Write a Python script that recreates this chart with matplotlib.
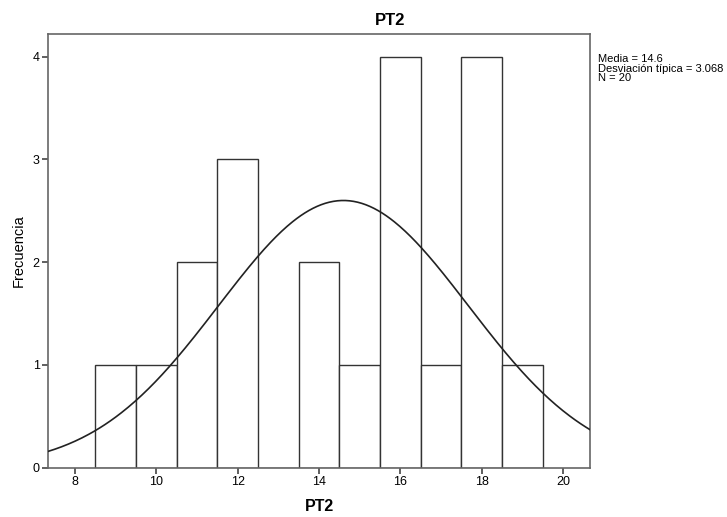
import numpy as np
import matplotlib
matplotlib.use("Agg")
import matplotlib.pyplot as plt

plt.rcParams['font.family'] = ['Liberation Sans', 'DejaVu Sans']

bin_centers = [9, 10, 11, 12, 13, 14, 15, 16, 17, 18, 19]
counts = [1, 1, 2, 3, 0, 2, 1, 4, 1, 4, 1]
mean = 14.6
sd = 3.068
n = 20
bin_width = 1.0

fig = plt.figure(figsize=(7.27, 5.17), dpi=100)
ax = fig.add_axes([0.066, 0.0954, 0.7456, 0.8386])

ax.bar(bin_centers, counts, width=bin_width, facecolor='white', edgecolor='#333333', linewidth=1.0, zorder=2)

xs = np.linspace(7.34, 20.66, 400)
ys = n * bin_width / (sd * np.sqrt(2 * np.pi)) * np.exp(-0.5 * ((xs - mean) / sd) ** 2)
ax.plot(xs, ys, color='#222222', linewidth=1.2, zorder=3)

ax.set_xlim(7.34, 20.66)
ax.set_ylim(0, 4.22)
ax.set_xticks([8, 10, 12, 14, 16, 18, 20])
ax.set_yticks([0, 1, 2, 3, 4])
for s in ax.spines.values():
    s.set_color('#666666')
    s.set_linewidth(1.2)
ax.tick_params(axis='both', labelsize=9, length=4, width=1.2, color='#444444', pad=2)

fig.text(0.536, 0.961, 'PT2', fontsize=12, fontweight='bold', ha='center', va='center')
ax.set_xlabel('PT2', fontsize=11.5, fontweight='bold', labelpad=8)
ax.set_ylabel('Frecuencia', fontsize=10.5, labelpad=5)

fig.text(0.8225, 0.895, 'Media = 14.6\nDesviación típica = 3.068\nN = 20',
         fontsize=8, va='top', ha='left', linespacing=0.95)

fig.savefig('out.png', dpi=100)
